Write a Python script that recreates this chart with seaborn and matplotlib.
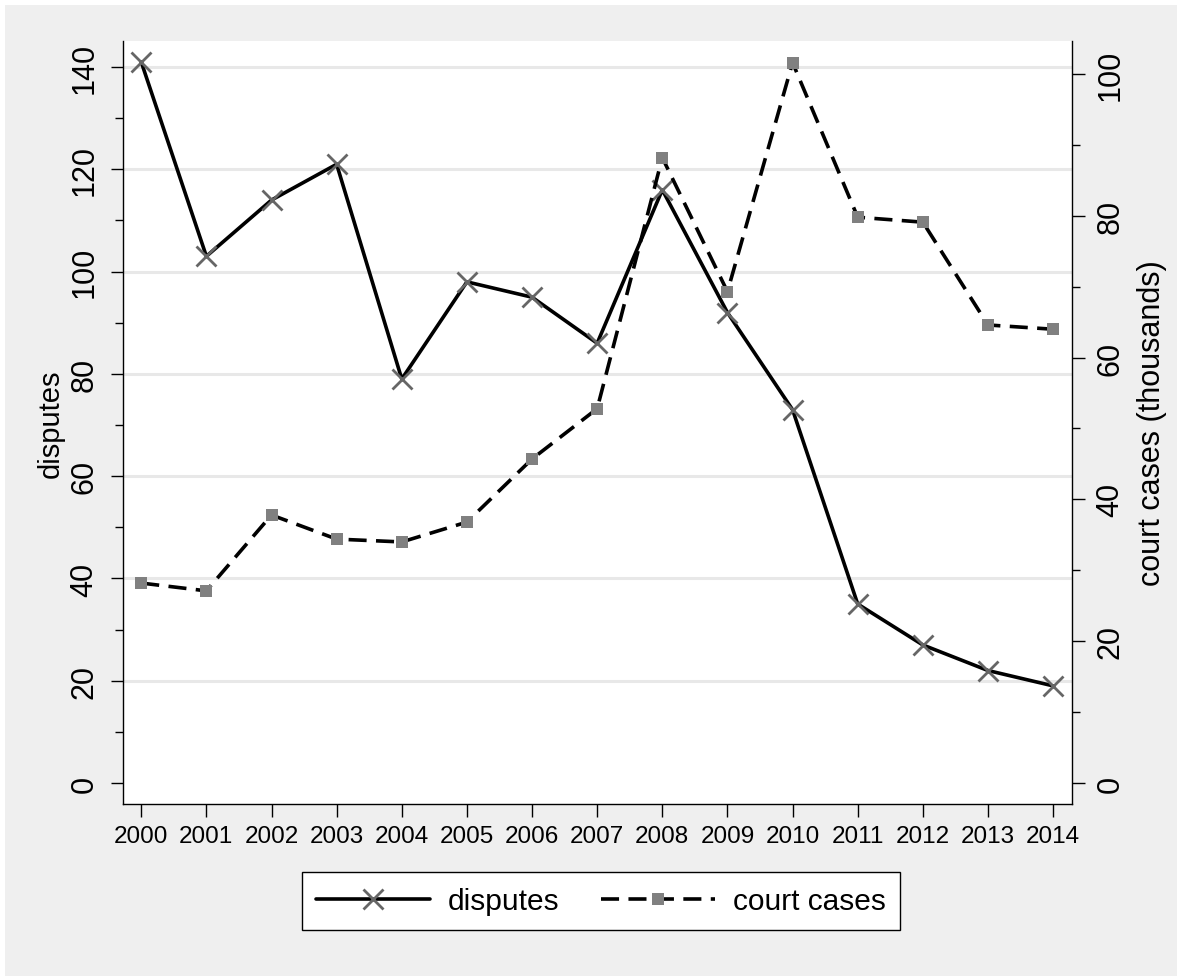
import seaborn as sns
import matplotlib.pyplot as plt
import matplotlib.patches as mpatches
from matplotlib.ticker import MultipleLocator
import pandas as pd

years = list(range(2000, 2015))
disputes = [141, 103, 114, 121, 79, 98, 95, 86, 116, 92, 73, 35, 27, 22, 19]
court_cases = [28.2, 27.1, 37.8, 34.4, 34.0, 36.8, 45.7, 52.8, 88.2, 69.3, 101.6, 79.8, 79.1, 64.6, 64.0]

df = pd.DataFrame({"year": years, "disputes": disputes, "court_cases": court_cases})

sns.set_style("ticks")
plt.rcParams['font.family'] = ['Liberation Sans', 'DejaVu Sans']
plt.rcParams['text.color'] = 'black'
plt.rcParams['axes.labelcolor'] = 'black'
plt.rcParams['xtick.color'] = 'black'
plt.rcParams['ytick.color'] = 'black'

fig = plt.figure(figsize=(11.86, 9.79), dpi=100)
fig.patch.set_facecolor("white")
# gray graph region with thin white border
bg = mpatches.Rectangle((5 / 1186, 2 / 979), 1172 / 1186, 971 / 979,
                        transform=fig.transFigure, facecolor="#efefef",
                        edgecolor="none", zorder=-10)
fig.patches.append(bg)

ax = fig.add_axes([123 / 1186, 1 - 805 / 979, (1072 - 123) / 1186, (805 - 42) / 979])
ax.set_facecolor("white")
ax2 = ax.twinx()

sns.lineplot(data=df, x="year", y="disputes", ax=ax, color="black", linewidth=2.6,
             marker="x", markersize=14.5, markeredgewidth=2.0, markeredgecolor="#666666",
             label="disputes", legend=False)
sns.lineplot(data=df, x="year", y="court_cases", ax=ax2, color="black", linewidth=2.6,
             marker="s", markersize=8.5, markeredgewidth=0,
             markerfacecolor="#808080", label="court cases", legend=False)
ax2.lines[0].set_dashes((5, 2.6))

ax.set_xlim(1999.72, 2014.29)
ax.set_ylim(-4.1, 145.1)
ax2.set_ylim(-2.96, 104.65)

ax.set_xticks(years)
ax.set_xticklabels([str(y) for y in years], fontsize=17.5)
ax.set_yticks(range(0, 141, 20))
ax.yaxis.set_minor_locator(MultipleLocator(10))
ax2.set_yticks(range(0, 101, 20))
ax2.yaxis.set_minor_locator(MultipleLocator(10))

for t in ax.get_yticklabels():
    t.set_rotation(90)
    t.set_va("center")
    t.set_fontsize(22)
for t in ax2.get_yticklabels():
    t.set_rotation(90)
    t.set_va("center")
    t.set_fontsize(22)

for a in (ax, ax2):
    a.tick_params(axis="both", which="major", length=9, width=1, color="black", pad=8)
    a.tick_params(axis="y", which="minor", length=6, width=1, color="black")
    for s in a.spines.values():
        s.set_color("black")
        s.set_linewidth(1)
    a.spines["top"].set_visible(False)
ax.spines["right"].set_visible(False)
ax2.spines["left"].set_visible(False)
ax2.spines["bottom"].set_visible(False)
ax.tick_params(axis="x", pad=6)

# horizontal grid lines at major ticks above zero
for v in range(20, 141, 20):
    ax.axhline(v, color="#e8e8e8", linewidth=2.2, zorder=0)

ax.set_xlabel("")
ax.set_ylabel("disputes", fontsize=21, labelpad=3)
ax2.set_ylabel("court cases (thousands)", fontsize=22, labelpad=8)

handles = [ax.lines[0], ax2.lines[0]]
leg = fig.legend(handles, ["disputes", "court cases"], loc="center",
                 bbox_to_anchor=(601 / 1186, 1 - 902 / 979), ncol=2, fontsize=21.5,
                 frameon=True, fancybox=False, edgecolor="black", handlelength=3.8,
                 handletextpad=0.6, columnspacing=1.4, borderpad=0.5)
leg.get_frame().set_linewidth(1)
leg.get_frame().set_facecolor("white")
leg.get_frame().set_alpha(1)

fig.savefig("out.png", dpi=100, facecolor=fig.get_facecolor())
